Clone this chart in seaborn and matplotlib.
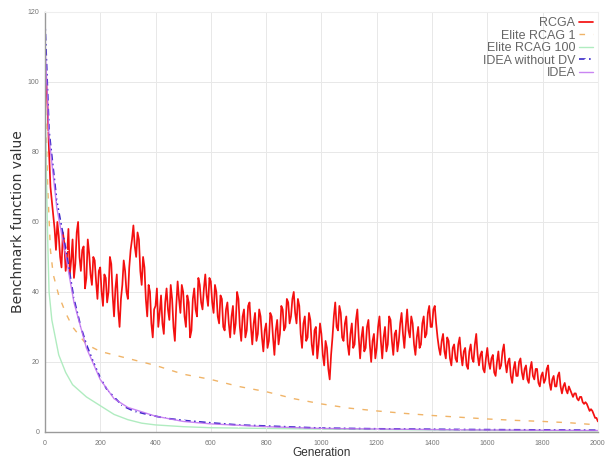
import numpy as np
import pandas as pd
import matplotlib
matplotlib.use("Agg")
import matplotlib.pyplot as plt
import seaborn as sns

# ---- data -------------------------------------------------------------
# RCGA, sampled every 5 generations (0 .. 2000), one row per 100 generations
rcga_gen = list(range(0, 2001, 5))
rcga_val = [
    105, 100, 92, 80, 70, 66, 62, 58, 52, 60, 56, 50, 47, 57, 54, 46, 50, 58, 45, 49,
    55, 44, 48, 57, 60, 50, 46, 52, 53, 41, 44, 55, 51, 45, 42, 50, 49, 43, 38, 46,
    47, 40, 36, 45, 44, 37, 40, 50, 48, 39, 33, 41, 45, 35, 30, 38, 42, 49, 46, 40,
    38, 47, 52, 55, 59, 53, 50, 57, 55, 46, 42, 50, 47, 38, 33, 42, 40, 31, 27, 35,
    36, 41, 30, 34, 39, 31, 28, 37, 41, 35, 32, 42, 38, 30, 26, 36, 43, 38, 34, 42,
    40, 33, 30, 39, 37, 27, 29, 38, 41, 35, 33, 44, 42, 37, 35, 41, 45, 39, 36, 44,
    43, 37, 34, 42, 40, 33, 31, 39, 38, 30, 29, 35, 37, 31, 27, 33, 36, 28, 31, 40,
    38, 30, 26, 33, 35, 27, 29, 36, 37, 30, 25, 31, 34, 26, 28, 35, 33, 27, 23, 29,
    31, 24, 26, 34, 33, 27, 22, 29, 32, 25, 28, 36, 35, 29, 30, 38, 37, 31, 33, 38,
    40, 34, 31, 38, 36, 28, 24, 31, 33, 26, 27, 34, 32, 25, 22, 29, 30, 21, 25, 31,
    28, 22, 19, 26, 24, 18, 15, 22, 27, 33, 37, 30, 29, 36, 34, 27, 26, 31, 33, 25,
    22, 28, 31, 24, 25, 32, 35, 27, 21, 27, 30, 23, 24, 30, 32, 25, 20, 26, 28, 21,
    24, 30, 33, 26, 21, 27, 30, 23, 25, 33, 32, 26, 22, 28, 29, 23, 26, 31, 34, 28,
    24, 30, 35, 29, 27, 33, 31, 25, 22, 27, 30, 24, 25, 31, 33, 27, 28, 34, 36, 30,
    30, 35, 36, 31, 27, 24, 22, 26, 28, 23, 21, 27, 26, 21, 19, 24, 25, 21, 20, 25,
    27, 22, 19, 23, 24, 19, 18, 23, 25, 21, 20, 25, 28, 22, 19, 22, 23, 18, 17, 21,
    24, 20, 18, 21, 22, 17, 16, 20, 23, 18, 19, 23, 25, 20, 17, 20, 21, 16, 14, 18,
    20, 16, 16, 20, 21, 17, 15, 18, 19, 15, 14, 18, 20, 16, 15, 18, 18, 14, 13, 16,
    17, 14, 15, 18, 19, 14, 12, 15, 16, 13, 13, 16, 17, 13, 11, 13, 14, 12, 11, 13,
    12, 11, 10, 11, 11, 9.5, 9, 10, 10, 8.5, 8, 8.5, 8, 7, 6, 6.5, 6, 5, 4, 4,
    3,
]

elite1_gen = [0, 10, 20, 30, 50, 75, 100, 150, 200, 300, 400, 500, 600, 700,
              800, 900, 1000, 1100, 1200, 1300, 1400, 1500, 1600, 1700, 1800,
              1900, 2000]
elite1_val = [100, 70, 52, 45, 39, 34, 30, 25, 23, 21, 19, 16.5, 15, 13,
              11.5, 9.5, 8, 6.8, 6, 5.3, 4.7, 4.2, 3.7, 3.3, 3, 2.6, 2]

elite100_gen = [0, 5, 10, 15, 25, 50, 75, 100, 150, 200, 250, 300, 350, 400,
                500, 600, 800, 1000, 1500, 2000]
elite100_val = [100, 75, 55, 40, 32, 22, 17, 13.5, 10, 7.5, 5, 3.5, 2.5, 2,
                1.5, 1.2, 1, 0.8, 0.5, 0.3]

idea_nodv_gen = [0, 15, 43, 76, 105, 130, 150, 175, 200, 225, 250, 280, 320,
                 370, 430, 500, 600, 700, 800, 1000, 1200, 1500, 2000]
idea_nodv_val = [118, 86, 66, 52, 38, 30, 25, 20, 15.5, 12, 10, 7.5, 6,
                 5, 4, 3.3, 2.6, 2, 1.7, 1.1, 0.9, 0.7, 0.5]

idea_gen = [0, 15, 43, 76, 105, 150, 200, 250, 300, 400, 500, 600, 800,
            1000, 1500, 2000]
idea_val = [112, 84, 64, 50, 37, 24, 15, 9.5, 7, 4.5, 3, 2.3, 1.5, 1, 0.6,
            0.4]

x_ticks = list(range(0, 2001, 200))
y_ticks = list(range(0, 121, 20))

# ---- figure -----------------------------------------------------------
sns.set_style("white")
plt.rcParams["font.family"] = ["Liberation Sans", "DejaVu Sans"]

fig = plt.figure(figsize=(6.07, 4.59), dpi=100)
ax = fig.add_axes([0.074, 0.059, 0.911, 0.915])

series = [
    ("RCGA", rcga_gen, rcga_val,
     dict(color="#f41010", lw=1.25, linestyle="-")),
    ("Elite RCAG 1", elite1_gen, elite1_val,
     dict(color="#f0b468", lw=1.0, linestyle=(0, (4, 6)))),
    ("Elite RCAG 100", elite100_gen, elite100_val,
     dict(color="#b0ecc0", lw=1.0, linestyle="-")),
    ("IDEA without DV", idea_nodv_gen, idea_nodv_val,
     dict(color="#3a2ac8", lw=1.2, linestyle=(0, (4, 2, 1, 2)),
          marker="+", markersize=3, markeredgewidth=0.8)),
    ("IDEA", idea_gen, idea_val,
     dict(color="#c070f0", lw=1.0, linestyle="-", alpha=0.85)),
]

for name, gx, gy, style in series:
    df = pd.DataFrame({"Generation": gx, "value": gy})
    sns.lineplot(data=df, x="Generation", y="value", ax=ax, label=name,
                 estimator=None, sort=False, **style)

ax.set_xlim(0, 2000)
ax.set_ylim(0, 120)
ax.set_xticks(x_ticks)
ax.set_yticks(y_ticks)
ax.tick_params(axis="both", labelsize=5, colors="#777777", direction="in",
               length=3, width=0.6)
ax.tick_params(axis="y", pad=4)
ax.tick_params(axis="x", pad=6)
ax.grid(True, color="#e8e8e8", lw=0.7)
for side in ["left", "bottom"]:
    ax.spines[side].set_color("#9a9a9a")
    ax.spines[side].set_linewidth(1.0)
for side in ["top", "right"]:
    ax.spines[side].set_color("#eeeeee")
    ax.spines[side].set_linewidth(0.8)

ax.set_xlabel("Generation", fontsize=8.5, color="#333333", labelpad=-0.5)
ax.set_ylabel("Benchmark function value", fontsize=10, color="#333333",
              family=["DejaVu Sans"])
ax.yaxis.set_label_coords(-0.036, 0.5)

leg = ax.legend(loc="upper right", markerfirst=False, frameon=False,
                fontsize=9, handlelength=1.1, handletextpad=0.3,
                labelspacing=0.05, borderaxespad=0.2, borderpad=0.2)
for t in leg.get_texts():
    t.set_color("#666666")
    t.set_ha("right")
leg._legend_box.align = "right"

fig.savefig("out.png", dpi=100)
